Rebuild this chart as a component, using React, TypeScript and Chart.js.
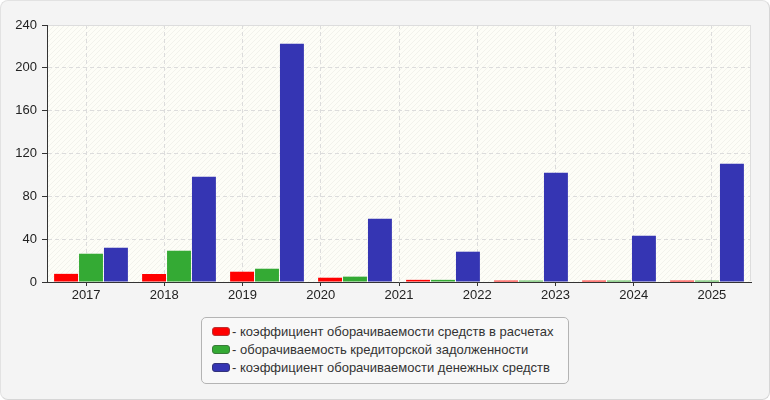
import React, { useEffect, useRef } from 'react';
import Chart from 'chart.js/auto';

// bar groups (8 periods) and the year labels printed on the axis (9)
const periods = ['2018', '2019', '2020', '2021', '2022', '2023', '2024', '2025'];
const yearTicks = ['2017', '2018', '2019', '2020', '2021', '2022', '2023', '2024', '2025'];

const settlementTurnover = [7.6, 7.5, 9.6, 4.0, 2.0, 1.3, 1.3, 1.3];
const payablesTurnover = [26.4, 29.2, 12.4, 5.0, 2.0, 1.3, 1.3, 1.3];
const cashTurnover = [32, 98.3, 222.5, 59, 28.3, 102, 43.2, 110.5];

const seriesNames = [
    'коэффициент оборачиваемости средств в расчетах',
    'оборачиваемость кредиторской задолженности',
    'коэффициент оборачиваемости денежных средств',
];
const seriesColors = ['#ff0000', '#34aa34', '#3535b3'];
const swatchBorders = ['#b33', '#3a7a3a', '#33337a'];

const FONT = '"Liberation Sans", Arial, sans-serif';

// hatched plot background + light frame on top/right
const plotBackground = {
    id: 'plotBackground',
    beforeDraw(chart: Chart) {
        const { ctx, chartArea: a } = chart;
        const tile = document.createElement('canvas');
        tile.width = 5;
        tile.height = 5;
        const t = tile.getContext('2d')!;
        t.fillStyle = '#fdfdf7';
        t.fillRect(0, 0, 5, 5);
        t.strokeStyle = 'rgba(0,0,0,0.045)';
        t.lineWidth = 1;
        t.beginPath();
        t.moveTo(0, 5);
        t.lineTo(5, 0);
        t.moveTo(-1, 1);
        t.lineTo(1, -1);
        t.moveTo(4, 6);
        t.lineTo(6, 4);
        t.stroke();
        ctx.save();
        ctx.fillStyle = ctx.createPattern(tile, 'repeat')!;
        ctx.fillRect(a.left, a.top, a.right - a.left, a.bottom - a.top);
        ctx.restore();
    },
    afterDraw(chart: Chart) {
        const { ctx, chartArea: a } = chart;
        ctx.save();
        ctx.strokeStyle = '#dddddd';
        ctx.lineWidth = 1;
        ctx.beginPath();
        ctx.moveTo(a.left + 1, a.top + 0.5);
        ctx.lineTo(a.right - 0.5, a.top + 0.5);
        ctx.lineTo(a.right - 0.5, a.bottom - 1);
        ctx.stroke();
        ctx.restore();
    },
};

const TurnoverChart: React.FC = () => {
    const canvasRef = useRef<HTMLCanvasElement>(null);

    useEffect(() => {
        if (!canvasRef.current) return;
        Chart.defaults.font.family = FONT;

        const values = [settlementTurnover, payablesTurnover, cashTurnover];
        const chart = new Chart(canvasRef.current, {
            type: 'bar',
            data: {
                labels: periods,
                datasets: values.map((data, i) => ({
                    label: seriesNames[i],
                    data,
                    backgroundColor: seriesColors[i],
                    borderWidth: 0,
                    categoryPercentage: 0.85,
                    barPercentage: 0.96,
                    xAxisID: 'x',
                })),
            },
            options: {
                responsive: false,
                animation: false,
                layout: { padding: { left: 0, top: 25, right: 19, bottom: 0 } },
                plugins: {
                    legend: { display: false },
                    tooltip: { enabled: false },
                },
                scales: {
                    x: { type: 'category', display: false, offset: true },
                    x2: {
                        type: 'category',
                        labels: yearTicks,
                        position: 'bottom',
                        offset: true,
                        grid: {
                            offset: false,
                            color: '#dcdcdc',
                            tickColor: '#333',
                            tickLength: 4,
                        },
                        border: { color: '#333', dash: [4, 3] },
                        ticks: { color: '#222', font: { size: 13 }, padding: 2, maxRotation: 0 },
                        afterFit: (scale) => {
                            scale.height = 400 - 282;
                        },
                    },
                    y: {
                        min: 0,
                        max: 240,
                        ticks: { stepSize: 40, color: '#222', font: { size: 13 }, padding: 5 },
                        grid: { color: '#dcdcdc', tickColor: '#333', tickLength: 5 },
                        border: { color: '#333', dash: [4, 3] },
                        afterFit: (scale) => {
                            scale.width = 47;
                        },
                    },
                },
            },
            plugins: [plotBackground],
        });

        return () => chart.destroy();
    }, []);

    return (
        <div
            style={{
                position: 'relative',
                width: 770,
                height: 400,
                boxSizing: 'border-box',
                background: '#f4f4f4',
                border: '1px solid #e2e2e2',
                borderRightColor: '#d6d6d6',
                borderBottomColor: '#d6d6d6',
                borderRadius: 8,
                overflow: 'hidden',
            }}
        >
            <canvas ref={canvasRef} width={770} height={400} style={{ position: 'absolute', left: -1, top: -1 }} />
            <div
                style={{
                    position: 'absolute',
                    left: 200,
                    top: 316,
                    width: 368,
                    height: 67,
                    boxSizing: 'border-box',
                    border: '1px solid #b4b4b4',
                    borderRadius: 5,
                    background: '#f8f8f8',
                    padding: '5px 0 0 10px',
                    fontFamily: FONT,
                    fontSize: 13,
                    color: '#333',
                }}
            >
                {seriesNames.map((name, i) => (
                    <div key={name} style={{ height: 18, lineHeight: '18px', whiteSpace: 'nowrap' }}>
                        <span
                            style={{
                                display: 'inline-block',
                                width: 16,
                                height: 7,
                                background: seriesColors[i],
                                border: `1px solid ${swatchBorders[i]}`,
                                borderRadius: 3,
                                marginRight: 2,
                                verticalAlign: 'middle',
                                position: 'relative',
                                top: -1,
                            }}
                        />
                        - {name}
                    </div>
                ))}
            </div>
        </div>
    );
};

export default function App() {
    useEffect(() => {
        document.body.style.margin = '0';
    }, []);
    return <TurnoverChart />;
}
